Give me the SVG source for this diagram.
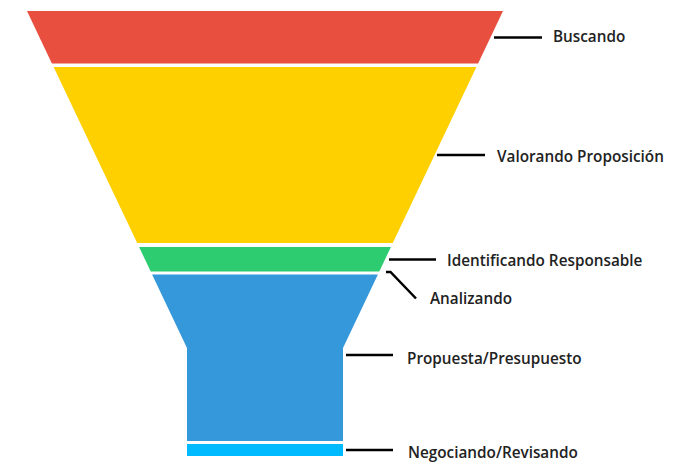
<svg xmlns="http://www.w3.org/2000/svg" width="696" height="462" viewBox="0 0 696 462">
<style>
.lbl{font-family:"Open Sans","Noto Sans",sans-serif;font-weight:600;font-size:15.3px;fill:#222}
.lead{stroke:#000;stroke-width:2.5;fill:none}
</style>
<rect width="696" height="462" fill="#fff"/>
<g id="buscando"><polygon points="27,11 503,11 478.1,63.5 51.9,63.5" fill="#E84F3F"/><text class="lbl" x="553" y="42">Buscando</text></g>
<g id="valorando"><polygon points="53.6,67 476.4,67 392.8,243 137.2,243" fill="#FFD000"/><text class="lbl" x="497" y="162">Valorando Proposición</text></g>
<g id="identificando"><polygon points="139.1,247 390.9,247 379.3,271.5 150.7,271.5" fill="#2ECC71"/><text class="lbl" x="447" y="266">Identificando Responsable</text></g>
<g id="analizando"><polygon points="152.1,274.5 377.9,274.5 343,348 343,441 187,441 187,348" fill="#3498DB"/><text class="lbl" x="430" y="304">Analizando</text></g>
<g id="propuesta"><text class="lbl" x="407" y="364">Propuesta/Presupuesto</text></g>
<g id="negociando"><rect x="187" y="444" width="156" height="12" fill="#00BAFF"/><text class="lbl" x="408" y="458">Negociando/Revisando</text></g>
<g id="connectors">
<line class="lead" x1="494" y1="37.5" x2="542" y2="37.5"/>
<line class="lead" x1="437" y1="155" x2="485" y2="155"/>
<line class="lead" x1="389" y1="259.5" x2="436" y2="259.5"/>
<polyline class="lead" points="386,272 390.5,272 416,298.5"/>
<line class="lead" x1="346" y1="355" x2="393" y2="355"/>
<line class="lead" x1="346" y1="450" x2="393" y2="450"/>
</g>
</svg>
